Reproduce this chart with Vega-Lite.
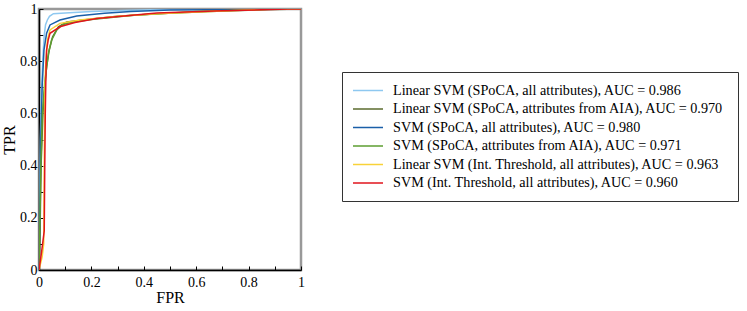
{
  "$schema": "https://vega.github.io/schema/vega-lite/v6.json",
  "width": 262,
  "height": 261,
  "autosize": {"type": "none"},
  "padding": {"left": 39, "top": 9, "right": 446, "bottom": 41},
  "background": "white",
  "config": {
    "font": "Liberation Serif",
    "axis": {"labelFont": "Liberation Serif", "titleFont": "Liberation Serif"},
    "legend": {"labelFont": "Liberation Serif", "titleFont": "Liberation Serif"},
    "text": {"font": "Liberation Serif"},
    "view": {"stroke": "#999999", "strokeWidth": 2.5}
  },
  "data": {
    "values": [
      {"s": "Linear SVM (SPoCA, all attributes), AUC = 0.986", "fpr": 0, "tpr": 0},
      {"s": "Linear SVM (SPoCA, all attributes), AUC = 0.986", "fpr": 0.002, "tpr": 0.2},
      {"s": "Linear SVM (SPoCA, all attributes), AUC = 0.986", "fpr": 0.005, "tpr": 0.5},
      {"s": "Linear SVM (SPoCA, all attributes), AUC = 0.986", "fpr": 0.01, "tpr": 0.7},
      {"s": "Linear SVM (SPoCA, all attributes), AUC = 0.986", "fpr": 0.015, "tpr": 0.82},
      {"s": "Linear SVM (SPoCA, all attributes), AUC = 0.986", "fpr": 0.02, "tpr": 0.9},
      {"s": "Linear SVM (SPoCA, all attributes), AUC = 0.986", "fpr": 0.025, "tpr": 0.94},
      {"s": "Linear SVM (SPoCA, all attributes), AUC = 0.986", "fpr": 0.032, "tpr": 0.958},
      {"s": "Linear SVM (SPoCA, all attributes), AUC = 0.986", "fpr": 0.04, "tpr": 0.972},
      {"s": "Linear SVM (SPoCA, all attributes), AUC = 0.986", "fpr": 0.055, "tpr": 0.982},
      {"s": "Linear SVM (SPoCA, all attributes), AUC = 0.986", "fpr": 0.1, "tpr": 0.985},
      {"s": "Linear SVM (SPoCA, all attributes), AUC = 0.986", "fpr": 0.2, "tpr": 0.99},
      {"s": "Linear SVM (SPoCA, all attributes), AUC = 0.986", "fpr": 0.35, "tpr": 0.995},
      {"s": "Linear SVM (SPoCA, all attributes), AUC = 0.986", "fpr": 0.5, "tpr": 0.999},
      {"s": "Linear SVM (SPoCA, all attributes), AUC = 0.986", "fpr": 1, "tpr": 1},
      {"s": "Linear SVM (SPoCA,  attributes from AIA), AUC = 0.970", "fpr": 0, "tpr": 0},
      {"s": "Linear SVM (SPoCA,  attributes from AIA), AUC = 0.970", "fpr": 0.004, "tpr": 0.15},
      {"s": "Linear SVM (SPoCA,  attributes from AIA), AUC = 0.970", "fpr": 0.008, "tpr": 0.4},
      {"s": "Linear SVM (SPoCA,  attributes from AIA), AUC = 0.970", "fpr": 0.015, "tpr": 0.6},
      {"s": "Linear SVM (SPoCA,  attributes from AIA), AUC = 0.970", "fpr": 0.022, "tpr": 0.7},
      {"s": "Linear SVM (SPoCA,  attributes from AIA), AUC = 0.970", "fpr": 0.029, "tpr": 0.779},
      {"s": "Linear SVM (SPoCA,  attributes from AIA), AUC = 0.970", "fpr": 0.039, "tpr": 0.843},
      {"s": "Linear SVM (SPoCA,  attributes from AIA), AUC = 0.970", "fpr": 0.052, "tpr": 0.894},
      {"s": "Linear SVM (SPoCA,  attributes from AIA), AUC = 0.970", "fpr": 0.074, "tpr": 0.932},
      {"s": "Linear SVM (SPoCA,  attributes from AIA), AUC = 0.970", "fpr": 0.106, "tpr": 0.95},
      {"s": "Linear SVM (SPoCA,  attributes from AIA), AUC = 0.970", "fpr": 0.2, "tpr": 0.962},
      {"s": "Linear SVM (SPoCA,  attributes from AIA), AUC = 0.970", "fpr": 0.3, "tpr": 0.972},
      {"s": "Linear SVM (SPoCA,  attributes from AIA), AUC = 0.970", "fpr": 0.45, "tpr": 0.982},
      {"s": "Linear SVM (SPoCA,  attributes from AIA), AUC = 0.970", "fpr": 0.65, "tpr": 0.99},
      {"s": "Linear SVM (SPoCA,  attributes from AIA), AUC = 0.970", "fpr": 0.85, "tpr": 0.997},
      {"s": "Linear SVM (SPoCA,  attributes from AIA), AUC = 0.970", "fpr": 1, "tpr": 1},
      {"s": "SVM (SPoCA, all attributes), AUC = 0.980", "fpr": 0, "tpr": 0},
      {"s": "SVM (SPoCA, all attributes), AUC = 0.980", "fpr": 0.003, "tpr": 0.2},
      {"s": "SVM (SPoCA, all attributes), AUC = 0.980", "fpr": 0.007, "tpr": 0.5},
      {"s": "SVM (SPoCA, all attributes), AUC = 0.980", "fpr": 0.012, "tpr": 0.7},
      {"s": "SVM (SPoCA, all attributes), AUC = 0.980", "fpr": 0.019, "tpr": 0.843},
      {"s": "SVM (SPoCA, all attributes), AUC = 0.980", "fpr": 0.029, "tpr": 0.907},
      {"s": "SVM (SPoCA, all attributes), AUC = 0.980", "fpr": 0.042, "tpr": 0.939},
      {"s": "SVM (SPoCA, all attributes), AUC = 0.980", "fpr": 0.08, "tpr": 0.958},
      {"s": "SVM (SPoCA, all attributes), AUC = 0.980", "fpr": 0.144, "tpr": 0.973},
      {"s": "SVM (SPoCA, all attributes), AUC = 0.980", "fpr": 0.25, "tpr": 0.984},
      {"s": "SVM (SPoCA, all attributes), AUC = 0.980", "fpr": 0.35, "tpr": 0.99},
      {"s": "SVM (SPoCA, all attributes), AUC = 0.980", "fpr": 0.5, "tpr": 0.996},
      {"s": "SVM (SPoCA, all attributes), AUC = 0.980", "fpr": 1, "tpr": 1},
      {"s": "SVM (SPoCA,  attributes from AIA), AUC = 0.971", "fpr": 0, "tpr": 0},
      {"s": "SVM (SPoCA,  attributes from AIA), AUC = 0.971", "fpr": 0.003, "tpr": 0.15},
      {"s": "SVM (SPoCA,  attributes from AIA), AUC = 0.971", "fpr": 0.007, "tpr": 0.4},
      {"s": "SVM (SPoCA,  attributes from AIA), AUC = 0.971", "fpr": 0.013, "tpr": 0.6},
      {"s": "SVM (SPoCA,  attributes from AIA), AUC = 0.971", "fpr": 0.022, "tpr": 0.72},
      {"s": "SVM (SPoCA,  attributes from AIA), AUC = 0.971", "fpr": 0.036, "tpr": 0.83},
      {"s": "SVM (SPoCA,  attributes from AIA), AUC = 0.971", "fpr": 0.048, "tpr": 0.881},
      {"s": "SVM (SPoCA,  attributes from AIA), AUC = 0.971", "fpr": 0.068, "tpr": 0.92},
      {"s": "SVM (SPoCA,  attributes from AIA), AUC = 0.971", "fpr": 0.09, "tpr": 0.94},
      {"s": "SVM (SPoCA,  attributes from AIA), AUC = 0.971", "fpr": 0.12, "tpr": 0.948},
      {"s": "SVM (SPoCA,  attributes from AIA), AUC = 0.971", "fpr": 0.2, "tpr": 0.96},
      {"s": "SVM (SPoCA,  attributes from AIA), AUC = 0.971", "fpr": 0.35, "tpr": 0.975},
      {"s": "SVM (SPoCA,  attributes from AIA), AUC = 0.971", "fpr": 0.6, "tpr": 0.99},
      {"s": "SVM (SPoCA,  attributes from AIA), AUC = 0.971", "fpr": 0.9, "tpr": 1},
      {"s": "SVM (SPoCA,  attributes from AIA), AUC = 0.971", "fpr": 1, "tpr": 1},
      {"s": "Linear SVM (Int. Threshold, all attributes), AUC = 0.963", "fpr": 0, "tpr": 0},
      {"s": "Linear SVM (Int. Threshold, all attributes), AUC = 0.963", "fpr": 0.012, "tpr": 0.05},
      {"s": "Linear SVM (Int. Threshold, all attributes), AUC = 0.963", "fpr": 0.018, "tpr": 0.1},
      {"s": "Linear SVM (Int. Threshold, all attributes), AUC = 0.963", "fpr": 0.02, "tpr": 0.4},
      {"s": "Linear SVM (Int. Threshold, all attributes), AUC = 0.963", "fpr": 0.022, "tpr": 0.65},
      {"s": "Linear SVM (Int. Threshold, all attributes), AUC = 0.963", "fpr": 0.025, "tpr": 0.779},
      {"s": "Linear SVM (Int. Threshold, all attributes), AUC = 0.963", "fpr": 0.032, "tpr": 0.881},
      {"s": "Linear SVM (Int. Threshold, all attributes), AUC = 0.963", "fpr": 0.042, "tpr": 0.92},
      {"s": "Linear SVM (Int. Threshold, all attributes), AUC = 0.963", "fpr": 0.08, "tpr": 0.945},
      {"s": "Linear SVM (Int. Threshold, all attributes), AUC = 0.963", "fpr": 0.156, "tpr": 0.958},
      {"s": "Linear SVM (Int. Threshold, all attributes), AUC = 0.963", "fpr": 0.3, "tpr": 0.972},
      {"s": "Linear SVM (Int. Threshold, all attributes), AUC = 0.963", "fpr": 0.45, "tpr": 0.982},
      {"s": "Linear SVM (Int. Threshold, all attributes), AUC = 0.963", "fpr": 0.7, "tpr": 0.992},
      {"s": "Linear SVM (Int. Threshold, all attributes), AUC = 0.963", "fpr": 0.9, "tpr": 1},
      {"s": "Linear SVM (Int. Threshold, all attributes), AUC = 0.963", "fpr": 1, "tpr": 1},
      {"s": "SVM (Int. Threshold, all attributes), AUC = 0.960", "fpr": 0, "tpr": 0},
      {"s": "SVM (Int. Threshold, all attributes), AUC = 0.960", "fpr": 0.01, "tpr": 0.07},
      {"s": "SVM (Int. Threshold, all attributes), AUC = 0.960", "fpr": 0.02, "tpr": 0.15},
      {"s": "SVM (Int. Threshold, all attributes), AUC = 0.960", "fpr": 0.022, "tpr": 0.4},
      {"s": "SVM (Int. Threshold, all attributes), AUC = 0.960", "fpr": 0.024, "tpr": 0.6},
      {"s": "SVM (Int. Threshold, all attributes), AUC = 0.960", "fpr": 0.027, "tpr": 0.78},
      {"s": "SVM (Int. Threshold, all attributes), AUC = 0.960", "fpr": 0.029, "tpr": 0.843},
      {"s": "SVM (Int. Threshold, all attributes), AUC = 0.960", "fpr": 0.035, "tpr": 0.881},
      {"s": "SVM (Int. Threshold, all attributes), AUC = 0.960", "fpr": 0.042, "tpr": 0.907},
      {"s": "SVM (Int. Threshold, all attributes), AUC = 0.960", "fpr": 0.08, "tpr": 0.932},
      {"s": "SVM (Int. Threshold, all attributes), AUC = 0.960", "fpr": 0.137, "tpr": 0.948},
      {"s": "SVM (Int. Threshold, all attributes), AUC = 0.960", "fpr": 0.22, "tpr": 0.964},
      {"s": "SVM (Int. Threshold, all attributes), AUC = 0.960", "fpr": 0.45, "tpr": 0.985},
      {"s": "SVM (Int. Threshold, all attributes), AUC = 0.960", "fpr": 0.7, "tpr": 0.993},
      {"s": "SVM (Int. Threshold, all attributes), AUC = 0.960", "fpr": 0.95, "tpr": 1},
      {"s": "SVM (Int. Threshold, all attributes), AUC = 0.960", "fpr": 1, "tpr": 1}
    ]
  },
  "mark": {"type": "line", "strokeWidth": 1.5, "clip": true},
  "encoding": {
    "x": {
      "field": "fpr", "type": "quantitative", "title": "FPR",
      "scale": {"domain": [0, 1], "nice": false},
      "axis": {
        "values": [0, 0.1, 0.2, 0.3, 0.4, 0.5, 0.6, 0.7, 0.8, 0.9, 1],
        "format": "~g",
        "labelExpr": "round(datum.value*10) % 2 == 0 ? datum.label : ''",
        "grid": false, "domainColor": "black", "domainWidth": 1.5,
        "tickColor": "black", "tickSize": -4, "tickWidth": 1,
        "labelFont": "Liberation Serif", "labelFontSize": 14, "labelColor": "black", "labelPadding": 9,
        "labelFlush": false, "labelOverlap": false,
        "titleFont": "Liberation Serif", "titleFontSize": 16, "titleFontWeight": "normal", "titleColor": "black", "titlePadding": 0
      }
    },
    "y": {
      "field": "tpr", "type": "quantitative", "title": "TPR",
      "scale": {"domain": [0, 1], "nice": false},
      "axis": {
        "values": [0, 0.1, 0.2, 0.3, 0.4, 0.5, 0.6, 0.7, 0.8, 0.9, 1],
        "format": "~g",
        "labelExpr": "round(datum.value*10) % 2 == 0 ? datum.label : ''",
        "grid": false, "domainColor": "black", "domainWidth": 1.5,
        "tickColor": "black", "tickSize": -4, "tickWidth": 1,
        "labelFont": "Liberation Serif", "labelFontSize": 14, "labelColor": "black", "labelPadding": 6,
        "labelFlush": false, "labelOverlap": false,
        "titleFont": "Liberation Serif", "titleFontSize": 16, "titleFontWeight": "normal", "titleColor": "black", "titlePadding": 2
      }
    },
    "color": {
      "field": "s", "type": "nominal", "title": null,
      "scale": {
        "domain": [
          "Linear SVM (SPoCA, all attributes), AUC = 0.986",
          "Linear SVM (SPoCA,  attributes from AIA), AUC = 0.970",
          "SVM (SPoCA, all attributes), AUC = 0.980",
          "SVM (SPoCA,  attributes from AIA), AUC = 0.971",
          "Linear SVM (Int. Threshold, all attributes), AUC = 0.963",
          "SVM (Int. Threshold, all attributes), AUC = 0.960"
        ],
        "range": ["#8ec8f0", "#5b6b2e", "#1a5fa8", "#5c9e30", "#f8d238", "#e0141c"]
      },
      "legend": {
        "orient": "none", "legendX": 303, "legendY": 63,
        "symbolType": "M-1,0H3", "symbolSize": 225, "symbolStrokeWidth": 1.5,
        "labelFont": "Liberation Serif", "labelFontSize": 14.2, "labelColor": "black", "labelLimit": 400,
        "labelOffset": 24, "rowPadding": 2.5,
        "strokeColor": "#333333", "fillColor": "white", "padding": 10
      }
    },
    "order": [{"field": "fpr"}, {"field": "tpr"}]
  }
}
